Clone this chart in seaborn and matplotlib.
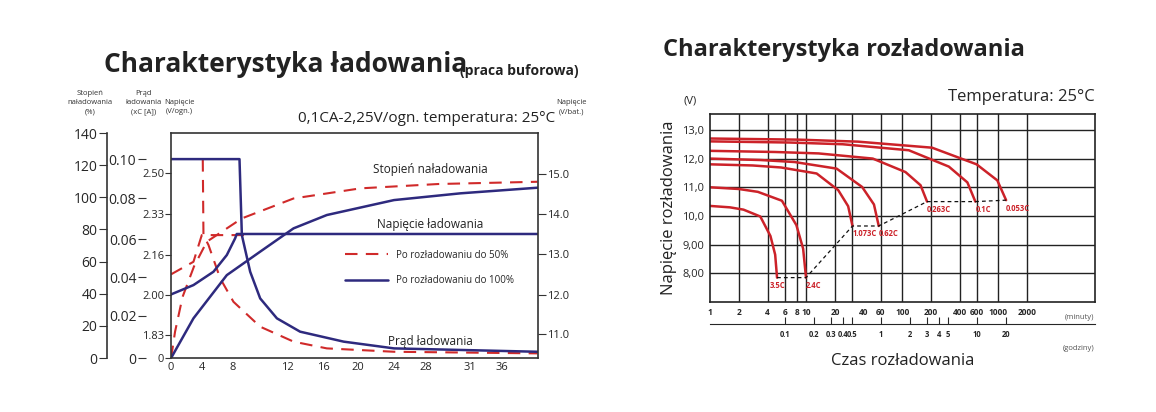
import numpy as np
import seaborn as sns
import matplotlib.pyplot as plt

sns.set_style("white")
plt.rcParams['font.family'] = ['Open Sans', 'DejaVu Sans']

RED = '#d02a2a'
BLUE = '#2e2a7e'

# ---- charging chart (x: position units, y: state of charge %) ----
time_pos = [0, 4.07, 8.1, 15.3, 19.9, 24.5, 29.2, 33.4, 39.1, 43.3]
time_labels = ['0', '4', '8', '12', '16', '20', '24', '28', '31', '36']

soc_pct = [0, 20, 40, 60, 80, 100, 120, 140]
cur_pos = [0, 26.3, 50.4, 74.0, 99.3, 123.8]
cur_labels = ['0', '0.02', '0.04', '0.06', '0.08', '0.10']
cell_pos = [0, 14.3, 39.2, 64.1, 89.8, 114.9]
cell_labels = ['0', '1.83', '2.00', '2.16', '2.33', '2.50']
bat_pos = [14.9, 39.5, 64.5, 89.5, 114.5]
bat_labels = ['11.0', '12.0', '13.0', '14.0', '15.0']

soc100_x = [0, 2.93, 7.3, 11.67, 16.04, 20.4, 29.2, 37.9, 48]
soc100_y = [0, 24.7, 51.6, 66.2, 80.7, 89, 98.3, 102.5, 106]
soc50_x = [0, 0.52, 1.5, 3.0, 4.68, 9.27, 16.04, 24.8, 35, 48]
soc50_y = [0, 16.4, 38, 57, 72.4, 86.9, 99.3, 105.6, 108.3, 109.7]
volt100_x = [0, 2.93, 5.55, 7.3, 8.39, 8.6, 48]
volt100_y = [39.6, 45.4, 53.7, 64.1, 74.5, 77.2, 77.2]
volt50_x = [0, 2.93, 4.02, 9.8]
volt50_y = [52.1, 59.9, 76.5, 76.5]
cur100_x = [0, 8.96, 9.27, 10.36, 11.67, 13.86, 16.9, 22.6, 29.2, 48]
cur100_y = [123.8, 123.8, 76.5, 53.7, 37.1, 24.7, 16.4, 10.2, 6, 3.9]
cur50_x = [4.15, 4.24, 4.9, 6.43, 8.17, 11.67, 16.04, 20.4, 29.2, 48]
cur50_y = [123.8, 76.5, 70.3, 49.6, 35, 19.5, 10.2, 6, 3.9, 2.9]

# ---- discharge chart (x: minutes, y: volts) ----
rates = ['3.5C', '2.4C', '1.073C', '0.62C', '0.263C', '0.1C', '0.053C']
dis_t = [
    [1, 1.62, 2.24, 3.35, 4.27, 4.78, 5.0],
    [1, 2.0, 3.16, 5.62, 7.94, 9.33, 10],
    [1, 2.79, 5.5, 12.9, 21.6, 27.4, 30.4],
    [1, 3.37, 7.6, 20.8, 38.3, 50.8, 57],
    [1, 4.76, 13.5, 49.4, 108, 155, 181],
    [1, 6.73, 24, 117, 305, 475, 575],
    [1, 8.4, 34.7, 204, 592, 972, 1200],
]
dis_v = [
    [10.35, 10.30, 10.22, 9.98, 9.30, 8.65, 7.85],
    [11.0, 10.94, 10.84, 10.53, 9.68, 8.86, 7.85],
    [11.8, 11.76, 11.69, 11.48, 10.90, 10.34, 9.65],
    [12.0, 11.95, 11.88, 11.65, 11.01, 10.40, 9.65],
    [12.27, 12.23, 12.18, 12.00, 11.53, 11.07, 10.5],
    [12.6, 12.56, 12.50, 12.29, 11.72, 11.17, 10.5],
    [12.7, 12.66, 12.59, 12.38, 11.80, 11.24, 10.55],
]
end_t = [5, 10, 30.4, 57, 181, 575, 1200]
end_v = [7.85, 7.85, 9.65, 9.65, 10.5, 10.5, 10.55]
min_ticks = [1, 2, 4, 6, 8, 10, 20, 40, 60, 100, 200, 400, 600, 1000, 2000]
grid_min = [2, 4, 6, 8, 10, 20, 30, 60, 100, 200, 400, 600, 1000, 2000]
hour_ticks = [0.1, 0.2, 0.3, 0.4, 0.5, 1, 2, 3, 4, 5, 10, 20]
volt_ticks = [8, 9, 10, 11, 12, 13]
volt_labels = ['8,00', '9,00', '10,0', '11,0', '12,0', '13,0']

fig = plt.figure(figsize=(11.56, 4.12), dpi=100)

# ================= left chart =================
ax = fig.add_axes([0.148, 0.131, 0.317, 0.546])
ax.set_xlim(0, 48)
ax.set_ylim(0, 140)
for s in ax.spines.values():
    s.set_color('#333333')
    s.set_linewidth(1.2)
ax.set_xticks(time_pos, time_labels, fontsize=8)
ax.set_yticks(cell_pos, cell_labels, fontsize=8)
ax.tick_params(axis='both', length=4, direction='out', color='#333333', pad=1)
ax.tick_params(axis='x', length=0, pad=3)

sns.lineplot(x=cur50_x, y=cur50_y, ax=ax, color=RED, lw=1.5, linestyle='--')
sns.lineplot(x=volt50_x, y=volt50_y, ax=ax, color=RED, lw=1.5, linestyle='--')
sns.lineplot(x=soc50_x, y=soc50_y, ax=ax, color=RED, lw=1.5, linestyle='--', label='Po rozładowaniu do 50%')
sns.lineplot(x=cur100_x, y=cur100_y, ax=ax, color=BLUE, lw=1.8)
sns.lineplot(x=volt100_x, y=volt100_y, ax=ax, color=BLUE, lw=1.8)
sns.lineplot(x=soc100_x, y=soc100_y, ax=ax, color=BLUE, lw=1.8, label='Po rozładowaniu do 100%')
for ln in ax.lines:
    if ln.get_color() == RED:
        ln.set_dashes((6, 4))
ax.legend(loc='center left', bbox_to_anchor=(0.45, 0.4), frameon=False, fontsize=7,
          handlelength=4.5, labelspacing=1.5)

ax.text(34, 113, 'Stopień naładowania', fontsize=8.5, ha='center', va='bottom', color='#222222')
ax.text(34, 79, 'Napięcie ładowania', fontsize=8.5, ha='center', va='bottom', color='#222222')
ax.text(34, 6, 'Prąd ładowania', fontsize=8.5, ha='center', va='bottom', color='#222222')

ax_soc = ax.twinx()
ax_soc.yaxis.tick_left()
ax_soc.set_ylim(0, 140)
ax_soc.set_yticks(soc_pct, [str(v) for v in soc_pct], fontsize=8)

ax_cur = ax.twinx()
ax_cur.yaxis.tick_left()
ax_cur.set_ylim(0, 140)
ax_cur.set_yticks(cur_pos, cur_labels, fontsize=8)

ax_bat = ax.twinx()
ax_bat.set_ylim(0, 140)
ax_bat.set_yticks(bat_pos, bat_labels, fontsize=8)

for a in (ax_soc, ax_cur, ax_bat):
    for s in a.spines.values():
        s.set_visible(False)
    a.tick_params(length=6, direction='out', color='#333333', pad=1)
ax_soc.spines['left'].set_position(('outward', 46))
ax_soc.spines['left'].set_visible(True)
ax_soc.spines['left'].set_linewidth(1.2)
ax_soc.spines['left'].set_color('#333333')
ax_cur.spines['left'].set_position(('outward', 18))

hdr = dict(fontsize=5.5, ha='center', va='bottom', color='#333333', linespacing=1.4)
fig.text(0.078, 0.72, 'Stopień\nnaładowania\n(%)', **hdr)
fig.text(0.124, 0.72, 'Prąd\nładowania\n(xC [A])', **hdr)
fig.text(0.155, 0.72, 'Napięcie\n(V/ogn.)', **hdr)
fig.text(0.494, 0.72, 'Napięcie\n(V/bat.)', **hdr)
fig.text(0.480, 0.695, '0,1CA-2,25V/ogn. temperatura: 25°C', fontsize=11, ha='right',
         va='bottom', color='#222222')
fig.text(0.090, 0.81, 'Charakterystyka ładowania', fontsize=19, fontweight='bold',
         color='#222222', va='bottom')
fig.text(0.398, 0.81, '(praca buforowa)', fontsize=10, fontweight='bold',
         color='#222222', va='bottom')

# ================= right chart =================
ax2 = fig.add_axes([0.614, 0.267, 0.333, 0.456])
ax2.set_xscale('log')
ax2.set_xlim(1, 10000)
ax2.set_ylim(7.0, 13.55)
for s in ax2.spines.values():
    s.set_color('#222222')
    s.set_linewidth(1.2)
for g in grid_min:
    ax2.axvline(g, color='#222222', lw=1.0)
for v in volt_ticks:
    ax2.axhline(v, color='#222222', lw=1.0)
ax2.set_yticks(volt_ticks, volt_labels, fontsize=8)
ax2.set_xticks(min_ticks, [str(m) for m in min_ticks], fontsize=6, fontweight='bold')
ax2.xaxis.set_minor_locator(plt.NullLocator())
ax2.tick_params(axis='both', length=0, pad=4)

for t, v in zip(dis_t, dis_v):
    sns.lineplot(x=t, y=v, ax=ax2, color='#cc2229', lw=1.8)
sns.lineplot(x=end_t, y=end_v, ax=ax2, color='#111111', lw=0.9, linestyle='--')
ax2.lines[-1].set_dashes((3, 2.5))
for t, v, r in zip(end_t, end_v, rates):
    ax2.text(t, v - 0.12, r, fontsize=5.5, fontweight='bold', color='#cc2229',
             ha='center' if r == '3.5C' else 'left', va='top')

sec = ax2.secondary_xaxis('bottom', functions=(lambda m: m / 60, lambda h: h * 60))
sec.spines['bottom'].set_position(('outward', 16))
sec.spines['bottom'].set_bounds(1 / 60, 10000 / 60)
sec.set_xticks(hour_ticks, [str(h) for h in hour_ticks], fontsize=5.5, fontweight='bold')
sec.xaxis.set_minor_locator(plt.NullLocator())
sec.tick_params(axis='x', direction='in', length=5, pad=4)
ax2.text(1.0, -0.08, '(minuty)', transform=ax2.transAxes, fontsize=5.5, ha='right', va='center', color='#555555')
ax2.text(1.0, -0.25, '(godziny)', transform=ax2.transAxes, fontsize=5.5, ha='right', va='center', color='#555555')

ax2.set_xlabel('Czas rozładowania', fontsize=12, labelpad=26, color='#222222')
ax2.set_ylabel('Napięcie rozładowania', fontsize=12, color='#222222', labelpad=4)
ax2.text(-0.05, 1.04, '(V)', transform=ax2.transAxes, fontsize=8, ha='center', va='bottom')
ax2.text(1.0, 1.05, 'Temperatura: 25°C', transform=ax2.transAxes, fontsize=12, ha='right', va='bottom')
fig.text(0.73, 0.85, 'Charakterystyka rozładowania', fontsize=17, fontweight='bold',
         ha='center', va='bottom', color='#222222')

fig.savefig('out.png', dpi=100)
